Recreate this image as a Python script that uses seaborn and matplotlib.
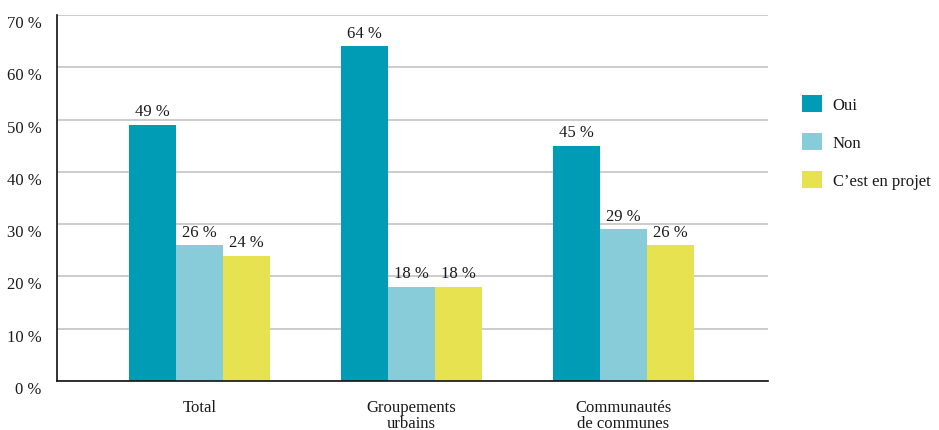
import matplotlib
matplotlib.use("Agg")
import matplotlib.pyplot as plt
import matplotlib.patches as mpatches
from matplotlib.transforms import ScaledTranslation
import seaborn as sns
import pandas as pd

categories = ["Total", "Groupements\nurbains", "Communautés\nde communes"]
series = ["Oui", "Non", "C’est en projet"]
oui = [49, 64, 45]
non = [26, 18, 29]
projet = [24, 18, 26]
yticks = [0, 10, 20, 30, 40, 50, 60, 70]
colors = ["#009bb4", "#88ccda", "#e6e250"]

rows = []
for name, vals in zip(series, [oui, non, projet]):
    for cat, v in zip(categories, vals):
        rows.append({"cat": cat, "serie": name, "val": v})
df = pd.DataFrame(rows)

sns.set_theme(style="white")
plt.rcParams["font.family"] = ["Liberation Serif", "DejaVu Serif"]
plt.rcParams["text.color"] = "#1a1a1a"

fig = plt.figure(figsize=(9.39, 4.31), dpi=100)
ax = fig.add_axes([57 / 939, 1 - 382 / 431, (768 - 57) / 939, (382 - 16) / 431])

sns.barplot(data=df, x="cat", y="val", hue="serie", order=categories,
            hue_order=series, palette=colors, width=0.665, saturation=1,
            errorbar=None, ax=ax, legend=False, linewidth=0)

for bars in ax.containers:
    ax.bar_label(bars, labels=[f"{b.get_height():.0f} %" for b in bars],
                 padding=4, fontsize=12, color="#1a1a1a")

ax.set_ylim(0, 70)
ax.set_xlim(-0.672, 2.682)
ax.set_yticks(yticks)
ax.set_yticklabels([f"{t} %" for t in yticks], fontsize=12, va="top")
for lab in ax.get_yticklabels():
    lab.set_transform(lab.get_transform() + ScaledTranslation(0, -1.5 / 72, fig.dpi_scale_trans))
ax.tick_params(axis="y", length=0, pad=11, labelcolor="#1a1a1a")
ax.tick_params(axis="x", length=0, pad=13, labelsize=12, labelcolor="#1a1a1a")
for lab in ax.get_xticklabels():
    lab.set_linespacing(1.0)
ax.set_xlabel("")
ax.set_ylabel("")

ax.yaxis.grid(True, color="#c8c8c8", linewidth=1.3)
ax.set_axisbelow(True)
for s in ["top", "right"]:
    ax.spines[s].set_visible(False)
ax.spines["left"].set_color("#111111")
ax.spines["left"].set_linewidth(1.2)
ax.spines["bottom"].set_color("#111111")
ax.spines["bottom"].set_linewidth(1.2)

handles = [mpatches.Patch(facecolor=c, edgecolor="none", label=s) for c, s in zip(colors, series)]
fig.legend(handles=handles, loc="center left", bbox_to_anchor=(787 / 939, 1 - 143 / 431),
           frameon=False, fontsize=12, handlelength=1.2, handleheight=1.2,
           labelspacing=1.2, handletextpad=0.65)

fig.savefig("out.png", dpi=100)
